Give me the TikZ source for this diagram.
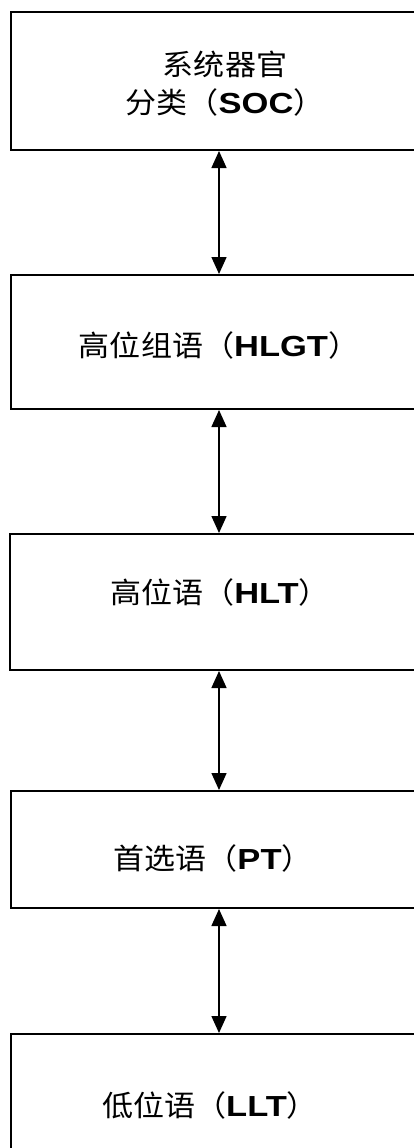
\documentclass[tikz,border=0pt]{standalone}
\usepackage{fontspec}
\setmainfont{Liberation Sans}[FakeStretch=1.19]
\newfontfamily\cjk{Noto Sans CJK SC}[FakeStretch=1.07]
\usetikzlibrary{arrows.meta}
\tikzset{
  box/.style={draw=black, line width=2pt, fill=white, rectangle, inner sep=0pt},
  lbl/.style={inner sep=0pt, align=center, font=\fontsize{29}{38}\selectfont},
  link/.style={line width=1.5pt, {Triangle[length=17pt,width=15pt]}-{Triangle[length=17pt,width=15pt]}}
}
\begin{document}
\begin{tikzpicture}[x=1pt,y=-1pt]
\useasboundingbox (0,0) rectangle (414,1148);
% boxes (right side runs off the page)
\node[box, minimum width=414pt, minimum height=138pt] (b1) at (218,81) {};
\node[box, minimum width=414pt, minimum height=134pt] (b2) at (218,342) {};
\node[box, minimum width=414pt, minimum height=136pt] (b3) at (217,602) {};
\node[box, minimum width=414pt, minimum height=117pt] (b4) at (218,849.5) {};
\node[box, minimum width=414pt, minimum height=140pt] (b5) at (218,1104) {};
% labels
\node[lbl] (t1) at (225,84) {{\cjk 系统器官}\\{\cjk 分类（}\textbf{SOC}{\cjk ）}};
\node[lbl] (t2) at (219,345) {{\cjk 高位组语（}\textbf{HLGT}{\cjk ）}};
\node[lbl] (t3) at (220,592) {{\cjk 高位语（}\textbf{HLT}{\cjk ）}};
\node[lbl] (t4) at (213,858) {{\cjk 首选语（}\textbf{PT}{\cjk ）}};
\node[lbl] (t5) at (210,1105) {{\cjk 低位语（}\textbf{LLT}{\cjk ）}};
% connectors
\coordinate (ax) at (219,0);
\draw[link] (b1.south -| ax) -- (b2.north -| ax);
\draw[link] (b2.south -| ax) -- (b3.north -| ax);
\draw[link] (b3.south -| ax) -- (b4.north -| ax);
\draw[link] (b4.south -| ax) -- (b5.north -| ax);
\end{tikzpicture}
\end{document}
